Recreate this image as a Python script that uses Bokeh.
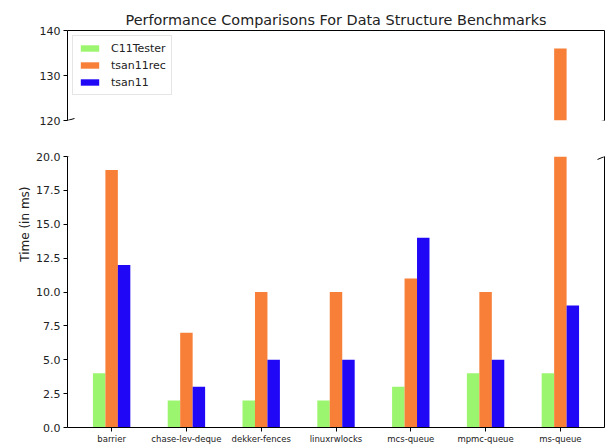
import numpy as np
from bokeh.plotting import figure
from bokeh.layouts import column
from bokeh.models import (Range1d, LinearAxis, FixedTicker, Arrow, Legend, Title,
                          PrintfTickFormatter)
from bokeh.embed import file_html
from bokeh.resources import INLINE

categories = ["barrier", "chase-lev-deque", "dekker-fences", "linuxrwlocks",
              "mcs-queue", "mpmc-queue", "ms-queue"]
series_names = ["C11Tester", "tsan11rec", "tsan11"]
c11tester = [4, 2, 2, 2, 3, 4, 4]
tsan11rec = [19, 7, 10, 10, 11, 10, 136]
tsan11 = [12, 3, 5, 5, 14, 5, 9]
series_values = [c11tester, tsan11rec, tsan11]
colors = ["#9cf56e", "#f77f38", "#2008f7"]
top_ticks = [120, 130, 140]
bottom_ticks = [0, 2.5, 5, 7.5, 10, 12.5, 15, 17.5, 20]

FONT = "DejaVu Sans"
W = 606
XR = (-0.59, 6.59)
TOP_R = (120, 140)
BOT_R = (0, 20)
n = len(categories)
idx = np.arange(n)
bw = 1 / 6
offsets = [-bw, 0, bw]
PX_X = 537 / (XR[1] - XR[0])


def style_axis(ax, ticks=True):
    ax.axis_line_color = "black"
    ax.axis_line_width = 1
    ax.minor_tick_line_color = None
    ax.major_tick_in = 0
    ax.major_tick_out = 4 if ticks else 0
    if not ticks:
        ax.major_tick_line_color = None
    ax.major_label_text_font = FONT
    ax.major_label_text_color = "#222222"


# ---------- top panel ----------
p1 = figure(width=W, height=128, output_backend="svg", toolbar_location=None,
            x_range=Range1d(*XR), y_range=Range1d(*TOP_R),
            min_border_left=67, min_border_right=2, min_border_top=30,
            min_border_bottom=8, x_axis_location=None, y_axis_location=None,
            title="Performance Comparisons For Data Structure Benchmarks")
p1.title.align = "center"
p1.title.text_font = FONT
p1.title.text_font_size = "14.4px"
p1.title.text_font_style = "normal"
p1.title.text_color = "#222222"
p1.title.standoff = 6
p1.outline_line_color = None
p1.grid.visible = False

rs = []
for s, vals in enumerate(series_values):
    # only the parts above the break are drawn in the upper panel
    shown = [v if v > TOP_R[0] else np.nan for v in vals]
    r = p1.vbar(x=idx + offsets[s], top=shown, bottom=0, width=bw,
                fill_color=colors[s], line_color=None)
    rs.append(r)

ly = LinearAxis(ticker=FixedTicker(ticks=top_ticks))
style_axis(ly)
ly.major_label_text_font_size = "11px"
ly.major_label_standoff = 3
p1.add_layout(ly, "left")
ay = LinearAxis(ticker=FixedTicker(ticks=[]))
style_axis(ay, ticks=False)
p1.add_layout(ay, "above")
ry = LinearAxis(ticker=FixedTicker(ticks=[]))
style_axis(ry, ticks=False)
p1.add_layout(ry, "right")

# top-axis tick marks (no labels)
tick_len = 4 * (TOP_R[1] - TOP_R[0]) / 90
for k in range(8):
    tx = k * 5 / 6
    p1.add_layout(Arrow(end=None, x_start=tx, y_start=TOP_R[1], x_end=tx,
                        y_end=TOP_R[1] + tick_len, line_color="black", line_width=1))

legend = Legend(items=[(series_names[i], [rs[i]]) for i in range(3)],
                location="top_left")
legend.margin = 5
legend.padding = 5
legend.spacing = 3
legend.glyph_width = 23
legend.glyph_height = 8
legend.label_height = 14
legend.label_standoff = 10
legend.label_text_font = FONT
legend.label_text_font_size = "11px"
legend.label_text_color = "#222222"
legend.border_line_color = "#cccccc"
legend.border_line_width = 1
legend.background_fill_alpha = 0.8
p1.add_layout(legend, "center")

# ---------- bottom panel ----------
p2 = figure(width=W, height=318, output_backend="svg", toolbar_location=None,
            x_range=Range1d(*XR), y_range=Range1d(*BOT_R),
            min_border_left=67, min_border_right=2, min_border_top=28,
            min_border_bottom=17, x_axis_location=None, y_axis_location=None)
p2.outline_line_color = None
p2.grid.visible = False
for s, vals in enumerate(series_values):
    p2.vbar(x=idx + offsets[s], top=vals, bottom=0, width=bw,
            fill_color=colors[s], line_color=None)

ly2 = LinearAxis(ticker=FixedTicker(ticks=bottom_ticks),
                 formatter=PrintfTickFormatter(format="%.1f"))
style_axis(ly2)
ly2.major_label_text_font_size = "11px"
ly2.major_label_standoff = 3
p2.add_layout(ly2, "left")
bx = LinearAxis(ticker=FixedTicker(ticks=list(range(n))),
                major_label_overrides={i: c for i, c in enumerate(categories)})
style_axis(bx)
bx.major_label_text_font_size = "8.5px"
bx.major_label_standoff = 2
p2.add_layout(bx, "below")
ry2 = LinearAxis(ticker=FixedTicker(ticks=[]))
style_axis(ry2, ticks=False)
p2.add_layout(ry2, "right")

ylab = Title(text="Time (in ms)", align="right", offset=30,
             text_font=FONT, text_font_size="12px", text_font_style="normal",
             text_color="#222222", standoff=4)
p2.add_layout(ylab, "left")

# ---------- break marks ----------
dx = 7 / PX_X
for xe in XR:
    p1.add_layout(Arrow(end=None, x_start=xe - dx, y_start=TOP_R[0] - 0.45,
                        x_end=xe + dx, y_end=TOP_R[0] + 0.45,
                        line_color="black", line_width=1))
    p2.add_layout(Arrow(end=None, x_start=xe - dx, y_start=BOT_R[1] - 0.22,
                        x_end=xe + dx, y_end=BOT_R[1] + 0.22,
                        line_color="black", line_width=1))

layout = column(p1, p2, spacing=0)
open("out.html", "w").write(file_html(layout, INLINE))
